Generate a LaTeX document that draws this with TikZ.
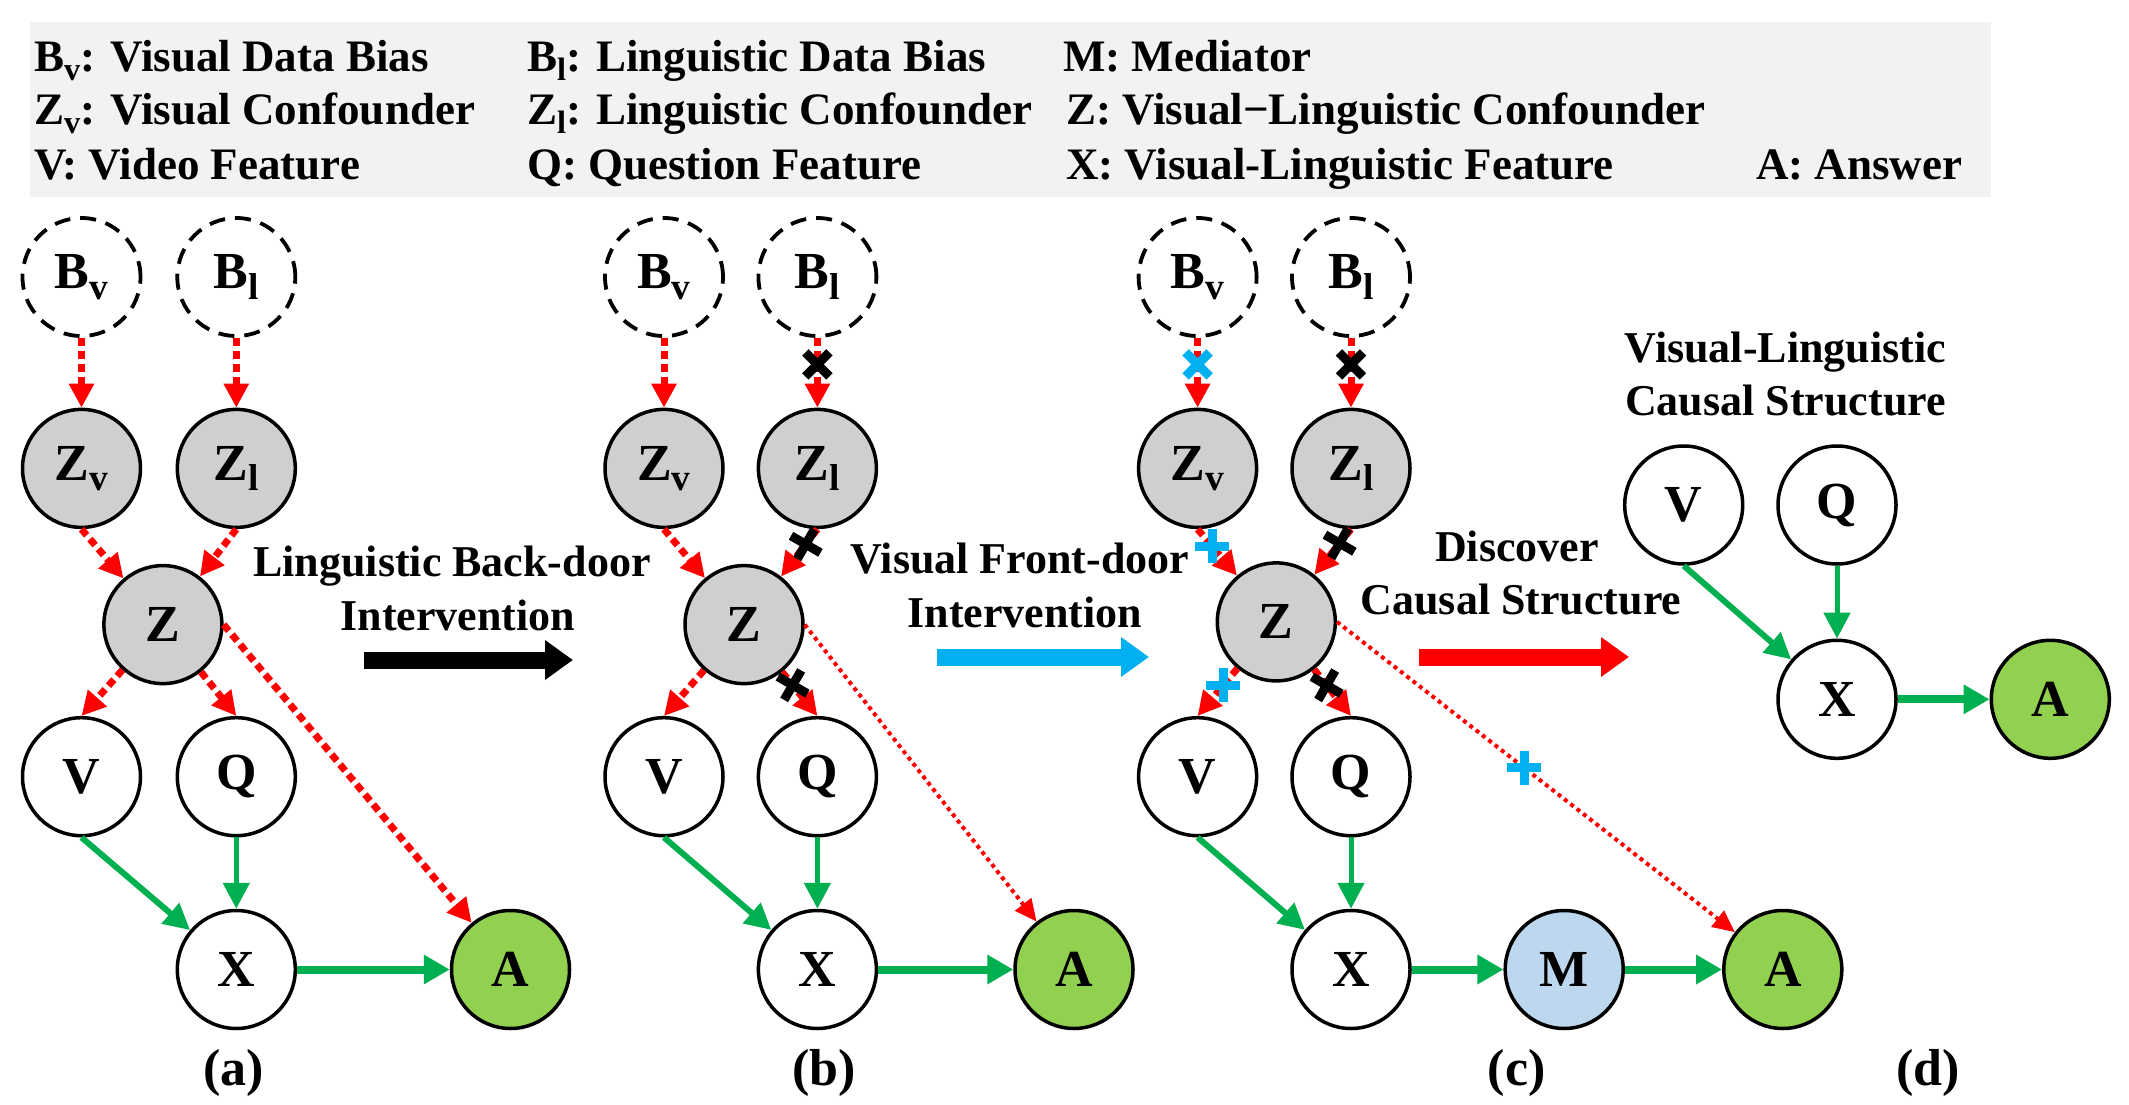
\documentclass[tikz,border=0pt]{standalone}
\usepackage{fontspec}
\setmainfont{Liberation Serif}
\usepackage{graphicx}
\usetikzlibrary{arrows.meta}
\definecolor{redA}{HTML}{FF0000}
\definecolor{greenA}{HTML}{00B050}
\definecolor{blueA}{HTML}{00B0F0}
\definecolor{grayN}{HTML}{D0CECE}
\definecolor{ansG}{HTML}{92D050}
\definecolor{medB}{HTML}{BDD7EE}
\definecolor{legG}{HTML}{F2F2F2}
\newcommand\subsc[1]{\raisebox{-0.2em}{\scalebox{0.72}{#1}}}
\begin{document}
\begin{tikzpicture}[x=1pt,y=-1pt,
 nd/.style={circle, draw, line width=3.5pt, minimum size=118pt, inner sep=0pt, font=\fontsize{52}{60}\selectfont\bfseries},
 bias/.style={nd, line width=3.8pt, dash pattern=on 16pt off 10pt},
 conf/.style={nd, fill=grayN},
 obs/.style={nd, fill=white},
 ans/.style={nd, fill=ansG},
 med/.style={nd, fill=medB},
 rthick/.style={draw=redA, line width=7pt, dash pattern=on 8pt off 5pt, -{Triangle[length=24pt,width=24pt]}},
 rthin/.style={draw=redA, line width=4pt, dash pattern=on 4pt off 4pt, -{Triangle[length=22pt,width=20pt]}},
 gthin/.style={draw=greenA, line width=6pt, -{Triangle[length=26pt,width=26pt]}},
 gthick/.style={draw=greenA, line width=8pt, -{Triangle[length=26pt,width=28pt]}},
 lbl/.style={font=\fontsize{44}{50}\selectfont\bfseries, inner sep=0pt, anchor=base},
 leg/.style={font=\fontsize{45}{50}\selectfont\bfseries, inner sep=0pt, anchor=base west},
 plab/.style={font=\fontsize{52}{60}\selectfont\bfseries, inner sep=0pt, anchor=base},
 bigarrow/.style={line width=17pt, -{Triangle[length=28pt,width=38pt]}},
 plusmk/.pic={\draw[line width=9pt] (-17,0)--(17,0) (0,-17)--(0,17);},
]
\useasboundingbox (0,0) rectangle (2129,1105);

% legend
\node[fill=legG, minimum width=1961pt, minimum height=175pt, anchor=north west, inner sep=0pt] (legbox) at (30,22) {};
\node[leg] (l1) at (34,72) {B\subsc{v}: Visual Data Bias};
\node[leg] (l2) at (527,72) {B\subsc{l}: Linguistic Data Bias};
\node[leg] (l3) at (1063,72) {M: Mediator};
\node[leg] (l4) at (34,125) {Z\subsc{v}: Visual Confounder};
\node[leg] (l5) at (527,125) {Z\subsc{l}: Linguistic Confounder};
\node[leg] (l6) at (1066,125) {Z: Visual−Linguistic Confounder};
\node[leg] (l7) at (34,179) {V: Video Feature};
\node[leg] (l8) at (527,179) {Q: Question Feature};
\node[leg] (l9) at (1066,179) {X: Visual-Linguistic Feature};
\node[leg] (l10) at (1756,179) {A: Answer};

% ---------- panel (a)
\node[bias] (aBv) at (81.5,277) {B\subsc{v}};
\node[bias] (aBl) at (236.3,277) {B\subsc{l}};
\node[conf] (aZv) at (81.5,468.4) {Z\subsc{v}};
\node[conf] (aZl) at (236.3,468.4) {Z\subsc{l}};
\node[conf] (aZ) at (162.9,624.6) {Z};
\node[obs] (aV) at (81.5,776.7) {V};
\node[obs] (aQ) at (236.3,776.7) {Q};
\node[obs] (aX) at (236.3,969.5) {X};
\node[ans] (aA) at (510.5,969.5) {A};
\node[plab] (aLab) at (233.5,1085) {(a)};
\draw[rthick] (aBv) -- (aZv);
\draw[rthick] (aBl) -- (aZl);
\draw[rthick] (aZv.south) -- (aZ);
\draw[rthick] (aZl.south) -- (aZ);
\draw[rthick] (aZ) -- (aV.north);
\draw[rthick] (aZ) -- (aQ.north);
\draw[rthick] (aZ.east) -- (aA);
\draw[gthin] (aV.south) -- (aX);
\draw[gthin, line width=5pt] (aQ) -- (aX);
\draw[gthick] (aX) -- (aA);

% ---------- panel (b)
\node[bias] (bBv) at (664,277) {B\subsc{v}};
\node[bias] (bBl) at (817.4,277) {B\subsc{l}};
\node[conf] (bZv) at (664,468.4) {Z\subsc{v}};
\node[conf] (bZl) at (817.4,468.4) {Z\subsc{l}};
\node[conf] (bZ) at (744,624.6) {Z};
\node[obs] (bV) at (664,776.7) {V};
\node[obs] (bQ) at (817.4,776.7) {Q};
\node[obs] (bX) at (817.4,969.5) {X};
\node[ans] (bA) at (1074,969.5) {A};
\node[plab] (bLab) at (824,1085) {(b)};
\draw[rthick] (bBv) -- (bZv);
\draw[rthick] (bBl) -- coordinate[pos=0.38] (mb1) (bZl);
\draw[rthick] (bZv.south) -- (bZ);
\draw[rthick] (bZl.south) -- coordinate[pos=0.32] (mb2) (bZ);
\draw[rthick] (bZ) -- (bV.north);
\draw[rthick] (bZ) -- coordinate[pos=0.3] (mb3) (bQ.north);
\draw[rthin] (bZ.east) -- (bA);
\draw[gthin] (bV.south) -- (bX);
\draw[gthin, line width=5pt] (bQ) -- (bX);
\draw[gthick] (bX) -- (bA);
\pic[black, rotate=45] at (mb1) {plusmk};
\pic[black, rotate=-30] at (mb2) {plusmk};
\pic[black, rotate=-30] at (mb3) {plusmk};

% ---------- panel (c)
\node[bias] (cBv) at (1197.6,277) {B\subsc{v}};
\node[bias] (cBl) at (1351,277) {B\subsc{l}};
\node[conf] (cZv) at (1197.6,468.4) {Z\subsc{v}};
\node[conf] (cZl) at (1351,468.4) {Z\subsc{l}};
\node[conf] (cZ) at (1276.3,621.9) {Z};
\node[obs] (cV) at (1197.6,776.7) {V};
\node[obs] (cQ) at (1351,776.7) {Q};
\node[obs] (cX) at (1351,969.5) {X};
\node[med] (cM) at (1564.2,969.5) {M};
\node[ans] (cA) at (1782.8,969.5) {A};
\node[plab] (cLab) at (1516.7,1085) {(c)};
\draw[rthick] (cBv) -- coordinate[pos=0.38] (mc1) (cZv);
\draw[rthick] (cBl) -- coordinate[pos=0.38] (mc2) (cZl);
\draw[rthick] (cZv.south) -- coordinate[pos=0.37] (mc3) (cZ);
\draw[rthick] (cZl.south) -- coordinate[pos=0.31] (mc4) (cZ);
\draw[rthick] (cZ) -- coordinate[pos=0.35] (mc5) (cV.north);
\draw[rthick] (cZ) -- coordinate[pos=0.34] (mc6) (cQ.north);
\draw[rthin] (cZ.east) -- coordinate[pos=0.47] (mc7) (cA);
\draw[gthin] (cV.south) -- (cX);
\draw[gthin, line width=5pt] (cQ) -- (cX);
\draw[gthick] (cX) -- (cM);
\draw[gthick] (cM) -- (cA);
\pic[blueA, rotate=45] at (mc1) {plusmk};
\pic[black, rotate=45] at (mc2) {plusmk};
\pic[blueA] at (mc3) {plusmk};
\pic[black, rotate=-30] at (mc4) {plusmk};
\pic[blueA] at (mc5) {plusmk};
\pic[black, rotate=-30] at (mc6) {plusmk};
\pic[blueA] at (mc7) {plusmk};

% ---------- panel (d)
\node[lbl] (dT1) at (1785.5,362.5) {Visual-Linguistic};
\node[lbl] (dT2) at (1785.5,415.5) {Causal Structure};
\node[obs] (dV) at (1683.7,505) {V};
\node[obs] (dQ) at (1837,505) {Q};
\node[obs] (dX) at (1837,699.3) {X};
\node[ans] (dA) at (2050.3,699.3) {A};
\node[plab] (dLab) at (1928,1085) {(d)};
\draw[gthin] (dV.south) -- (dX);
\draw[gthin, line width=5pt] (dQ) -- (dX);
\draw[gthick] (dX) -- (dA);

% ---------- transition arrows
\node[lbl] (t1a) at (452,576) {Linguistic Back-door};
\node[lbl] (t1b) at (458,630) {Intervention};
\coordinate (k1s) at (364,660); \coordinate (k1e) at (573,660);
\draw[bigarrow, black] (k1s) -- (k1e);
\node[lbl] (t2a) at (1020,573) {Visual Front-door};
\node[lbl] (t2b) at (1025,627) {Intervention};
\coordinate (k2s) at (937,657); \coordinate (k2e) at (1149,657);
\draw[bigarrow, blueA] (k2s) -- (k2e);
\node[lbl] (t3a) at (1517,561) {Discover};
\node[lbl] (t3b) at (1521,614) {Causal Structure};
\coordinate (k3s) at (1419,657); \coordinate (k3e) at (1629,657);
\draw[bigarrow, redA] (k3s) -- (k3e);
\end{tikzpicture}
\end{document}
